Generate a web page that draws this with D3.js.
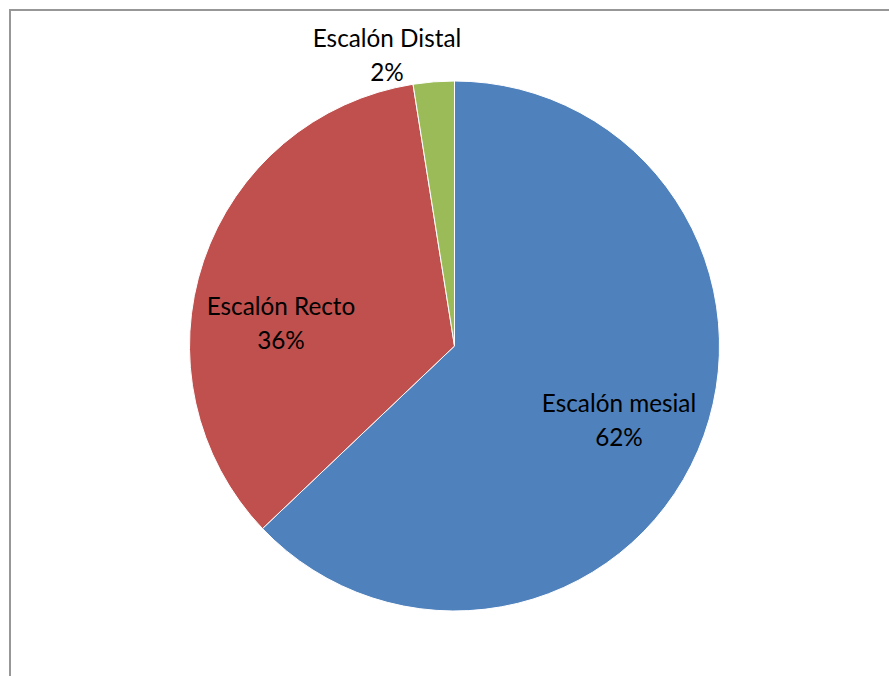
<!DOCTYPE html>
<html lang="es">
<head>
<meta charset="utf-8">
<title>Escalón</title>
<script src="https://d3js.org/d3.v7.min.js"></script>
<style>
  body { margin: 0; background: #fff; }
  svg text { font-family: "Lato", "Open Sans", sans-serif; fill: #000; }
</style>
</head>
<body>
<div id="chart"></div>
<script>
// data (slice shares, clockwise from 12 o'clock)
var categories = ["Escalón mesial", "Escalón Recto", "Escalón Distal"];
var values = [62.9, 34.6, 2.5];
var percentLabels = ["62%", "36%", "2%"];
var colors = ["#4F81BD", "#C0504D", "#9BBB59"];

var width = 889, height = 676;
var cx = 454.5, cy = 346, radius = 265;

// label centres relative to pie centre (Excel "best fit" placement)
var labelOffsets = [[164.5, 74], [-173.5, -23], [-67.5, -291]];

var svg = d3.select("#chart").append("svg")
    .attr("width", width)
    .attr("height", height);

// chart area frame (runs off right/bottom edges)
svg.append("rect")
    .attr("x", 10).attr("y", 10)
    .attr("width", width + 20).attr("height", height + 20)
    .attr("fill", "none")
    .attr("stroke", "#979797")
    .attr("stroke-width", 2);

var pie = d3.pie().sort(null).value(function(d) { return d; });
var arc = d3.arc().innerRadius(0).outerRadius(radius);

var g = svg.append("g").attr("transform", "translate(" + cx + "," + cy + ")");

g.selectAll("path")
    .data(pie(values))
    .enter().append("path")
    .attr("d", arc)
    .attr("fill", function(d, i) { return colors[i]; })
    .attr("stroke", "#fff")
    .attr("stroke-width", 1);

var labels = g.selectAll(".lbl")
    .data(categories)
    .enter().append("text")
    .attr("class", "lbl")
    .attr("text-anchor", "middle")
    .attr("font-size", "24.3px")
    .attr("transform", function(d, i) {
        return "translate(" + labelOffsets[i][0] + "," + labelOffsets[i][1] + ")";
    });

labels.append("tspan")
    .attr("x", 0).attr("y", -8)
    .text(function(d) { return d; });
labels.append("tspan")
    .attr("x", 0).attr("y", 26)
    .text(function(d, i) { return percentLabels[i]; });
</script>
</body>
</html>
